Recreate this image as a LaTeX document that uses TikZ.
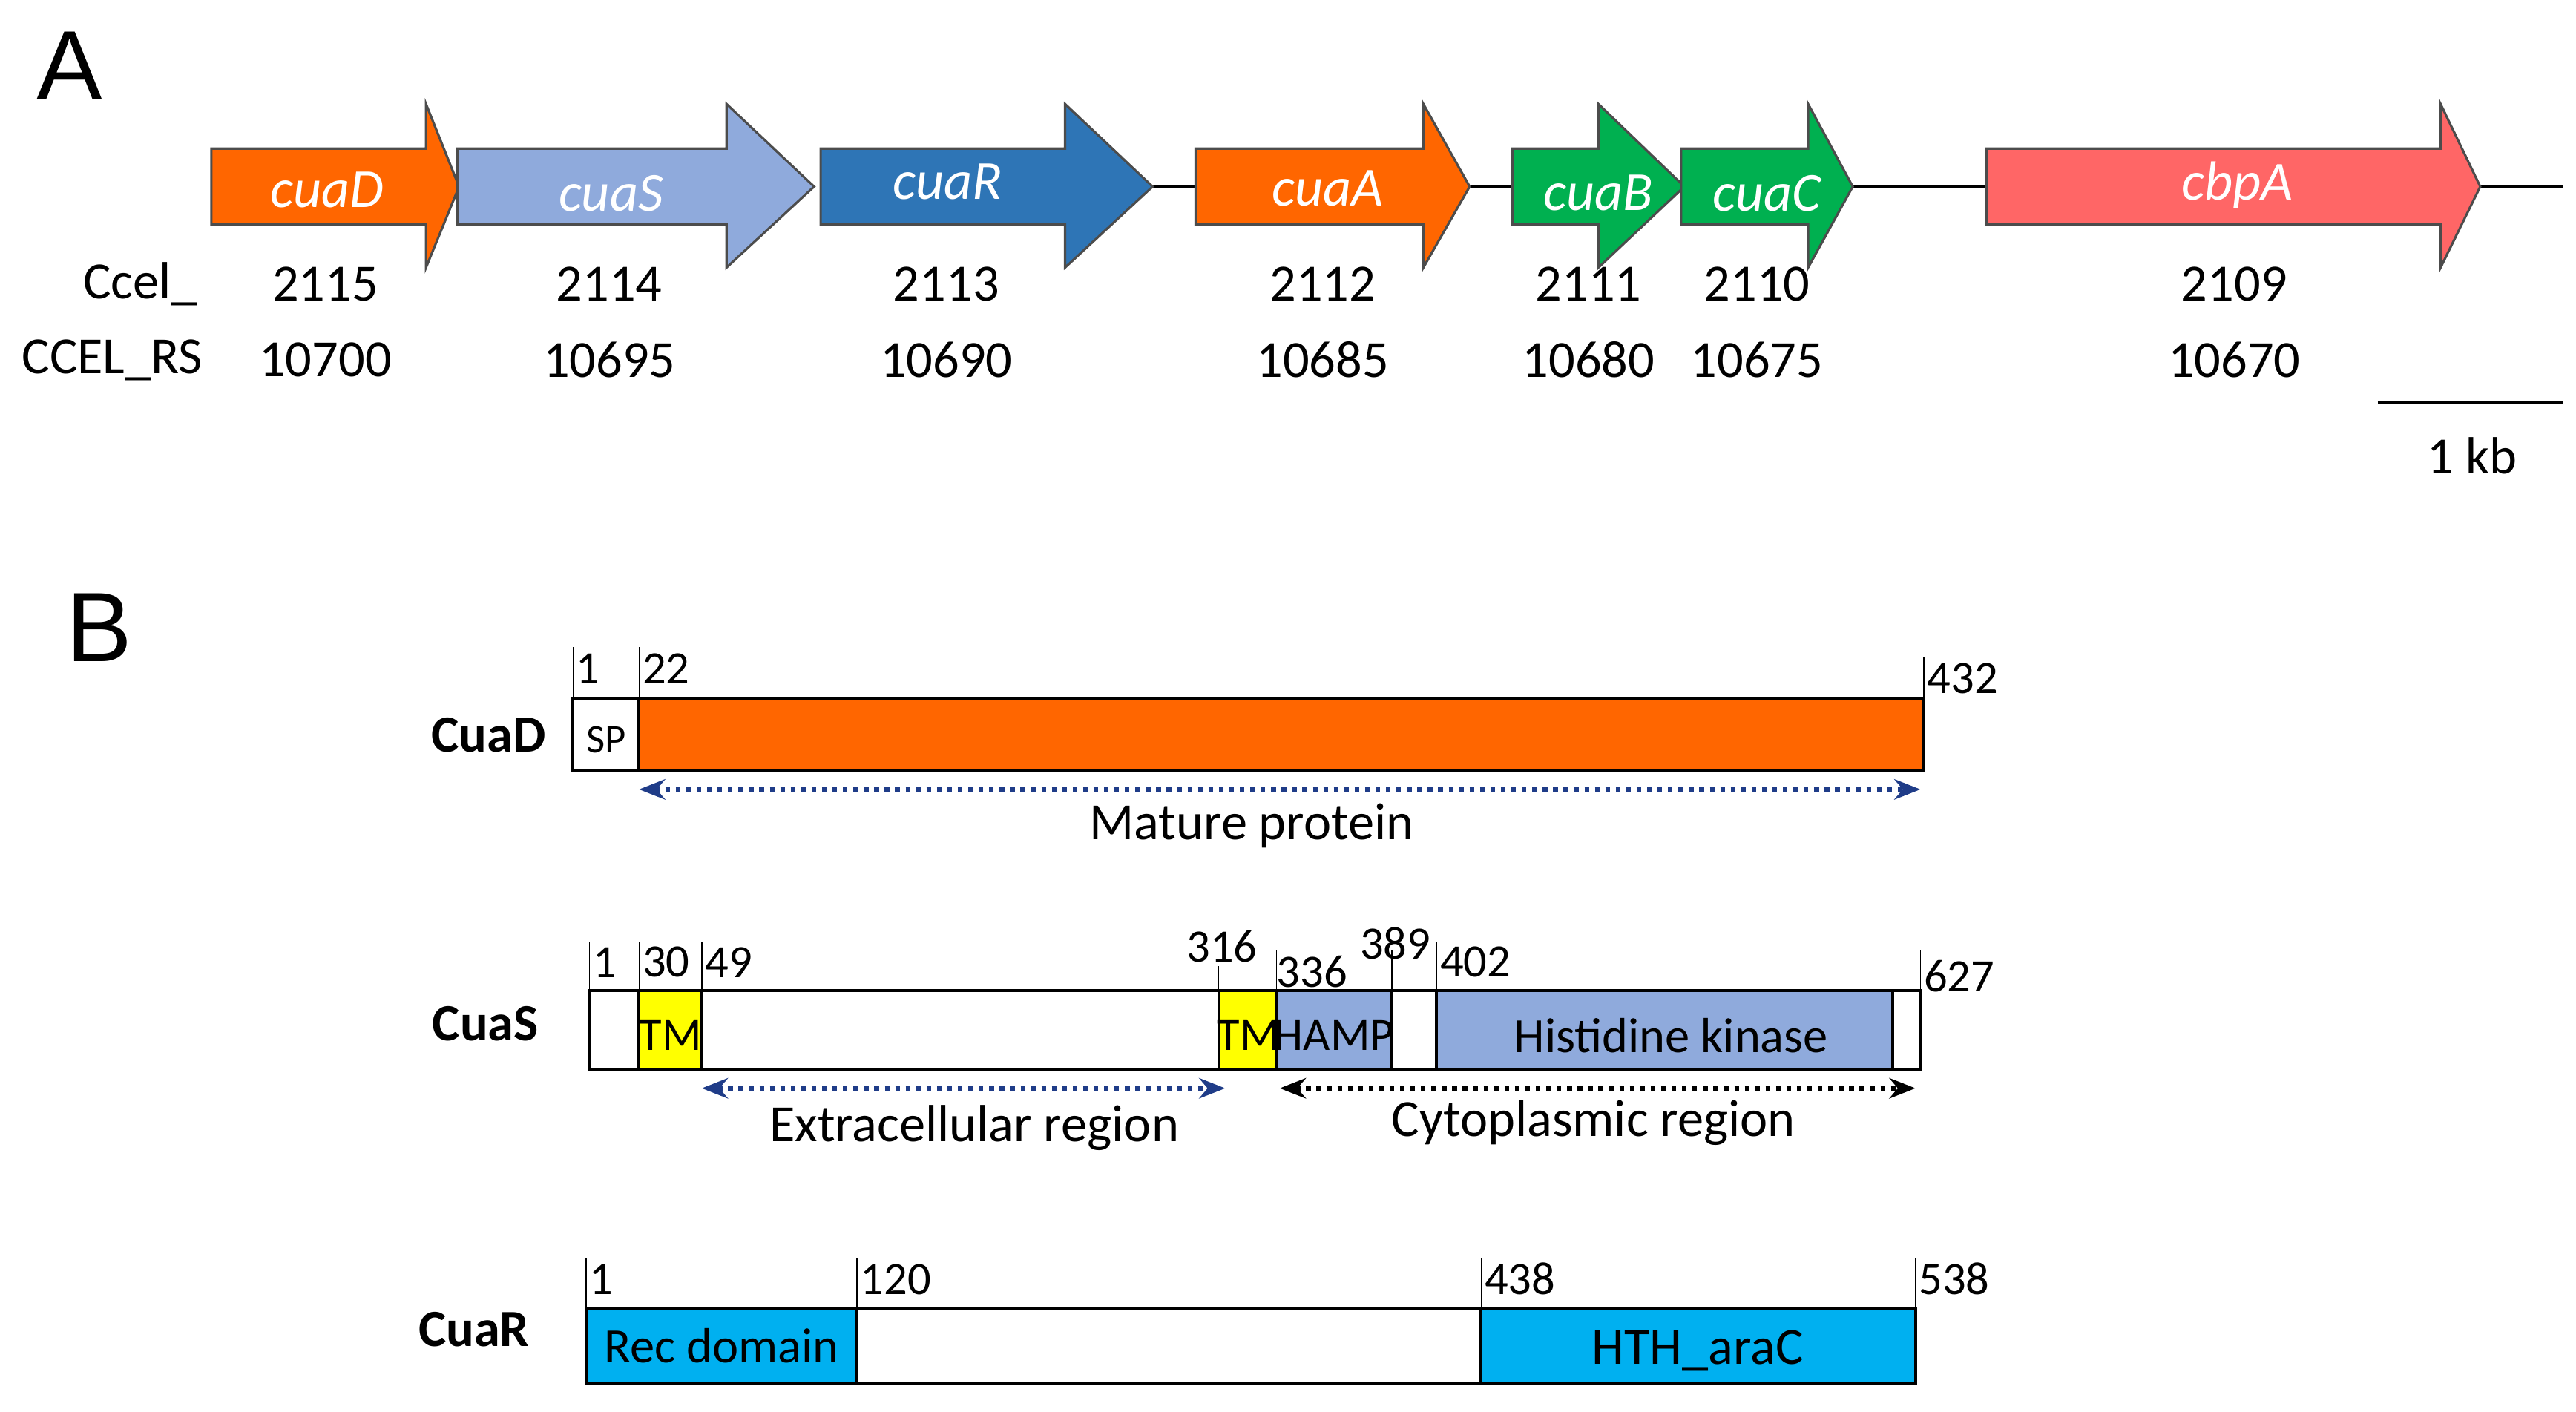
\documentclass[tikz,border=0pt]{standalone}
\usepackage{fontspec}
\setmainfont{Carlito}
\newfontfamily\arialf{Liberation Sans}
\usetikzlibrary{arrows.meta}
\definecolor{cOr}{HTML}{FF6600}
\definecolor{cLb}{HTML}{8FAADC}
\definecolor{cDb}{HTML}{2E75B6}
\definecolor{cGr}{HTML}{00B050}
\definecolor{cRd}{HTML}{FF6666}
\definecolor{cCy}{HTML}{00B0F0}
\definecolor{cYe}{HTML}{FFFF00}
\definecolor{cNv}{HTML}{1F3C88}
\begin{document}
\begin{tikzpicture}[x=0.02cm,y=-0.02cm,
  gene/.style={draw=black!70,line width=0.8pt},
  glab/.style={text=white,font=\fontsize{19}{22}\selectfont\itshape},
  num/.style={font=\fontsize{18}{21}\selectfont},
  small/.style={font=\fontsize{16}{19}\selectfont,anchor=south west,inner sep=1pt},
  box/.style={draw=black,line width=1pt},
  pname/.style={font=\fontsize{18}{21}\selectfont\bfseries},
  dar/.style={dotted,line width=1.6pt,{Stealth[length=9pt,width=7pt]}-{Stealth[length=9pt,width=7pt]}}]
\useasboundingbox (0,0) rectangle (1560,855);
% panel A
\node[font=\arialf\fontsize{34}{38}\selectfont] (A) at (42,40) {A};
\draw[line width=0.8pt] (698,113) -- (724,113) (890,113) -- (916,113) (1122,113) -- (1203,113) (1502,113) -- (1552,113);
\foreach \x/\h/\t/\c/\l [count=\i] in {128/258/278/cOr/cuaD,277/440/493/cLb/cuaS,497/645/698/cDb/cuaR,724/862/890/cOr/cuaA,916/968/1020/cGr/cuaB,1018/1095/1122/cGr/cuaC,1203/1478/1502/cRd/cbpA}{
  \draw[gene,fill=\c] (\x,90) -- (\h,90) -- (\h,63) -- (\t,113) -- (\h,162) -- (\h,136) -- (\x,136) -- cycle;
}
\node[glab] (l1) at (198,115) {cuaD};
\node[glab] (l2) at (370,117) {cuaS};
\node[glab] (l3) at (574,110) {cuaR};
\node[glab] (l4) at (804,114) {cuaA};
\node[glab] (l5) at (968,117) {cuaB};
\node[glab] (l6) at (1070,117) {cuaC};
\node[glab] (l7) at (1355,112) {cbpA};
\node[num] (c0) at (85,172) {Ccel\_};
\node[num] (r0) at (68,218) {CCEL\_RS};
\foreach \x/\a/\b [count=\i] in {197/2115/10700,369/2114/10695,573/2113/10690,801/2112/10685,962/2111/10680,1064/2110/10675,1353/2109/10670}{
  \node[num] (c\i) at (\x,172) {\a};
  \node[num] (r\i) at (\x,218) {\b};
}
\coordinate (s1) at (1440,244); \coordinate (s2) at (1552,244);
\draw[line width=1pt] (s1) -- (s2);
\node[num] (kb) at (1497,276) {1 kb};
% panel B
\node[font=\arialf\fontsize{34}{38}\selectfont] (B) at (60,380) {B};
% CuaD
\node[pname] (nD) at (296,445) {CuaD};
\draw[box,fill=cOr] (387,423) rectangle (1165,467);
\draw[box,fill=white] (347,423) rectangle (387,467);
\node[font=\fontsize{14}{16}\selectfont] (sp) at (367,448) {SP};
\foreach \x/\t in {347/1,387/22}{\draw (\x,423) -- (\x,392); \node[small] at (\x,416) {\t};}
\draw (1165,423) -- (1165,398); \node[small] at (1165,422) {432};
\coordinate (m1) at (387,478); \coordinate (m2) at (1163,478);
\draw[dar,cNv] (m1) -- (m2);
\node[num] (mp) at (758,500) {Mature protein};
% CuaS
\node[pname] (nS) at (294,620) {CuaS};
\draw[box,fill=white] (357,600) rectangle (1163,648);
\draw[box,fill=cYe] (387,600) rectangle (425,648);
\draw[box,fill=cYe] (738,600) rectangle (773,648);
\draw[box,fill=cLb] (773,600) rectangle (843,648);
\draw[box,fill=cLb] (870,600) rectangle (1146,648);
\node[font=\fontsize{16}{19}\selectfont] (tm1) at (406,627) {TM};
\node[font=\fontsize{16}{19}\selectfont] (tm2) at (756,627) {TM};
\node[font=\fontsize{16}{19}\selectfont] (hp) at (808,627) {HAMP};
\node[font=\fontsize{17}{20}\selectfont] (hk) at (1012,627) {Histidine kinase};
\foreach \x/\t in {357/1,387/30,425/49,870/402}{\draw (\x,600) -- (\x,570); \node[small] at (\x,594) {\t};}
\draw (738,600) -- (738,585); \node[small,anchor=south] at (740,585) {316};
\draw (773,600) -- (773,575); \node[small] at (771,600) {336};
\draw (843,600) -- (843,575); \node[small,anchor=south] at (845,583) {389};
\draw (1163,600) -- (1163,575); \node[small] at (1163,603) {627};
\coordinate (e1) at (425,659); \coordinate (e2) at (742,659);
\draw[dar,cNv] (e1) -- (e2);
\coordinate (y1) at (775,659); \coordinate (y2) at (1160,659);
\draw[dar,black] (y1) -- (y2);
\node[num] (er) at (590,683) {Extracellular region};
\node[num] (cr) at (965,680) {Cytoplasmic region};
% CuaR
\node[pname] (nR) at (287,805) {CuaR};
\draw[box,fill=white] (355,792) rectangle (1160,838);
\draw[box,fill=cCy] (355,792) rectangle (519,838);
\draw[box,fill=cCy] (897,792) rectangle (1160,838);
\node[font=\fontsize{17}{20}\selectfont] (rd) at (437,815) {Rec domain};
\node[font=\fontsize{18}{21}\selectfont] (ht) at (1028,818) {HTH\_araC};
\foreach \x/\t in {355/1,519/120,897/438,1160/538}{\draw (\x,792) -- (\x,762); \node[small] at (\x,786) {\t};}
\end{tikzpicture}
\end{document}
